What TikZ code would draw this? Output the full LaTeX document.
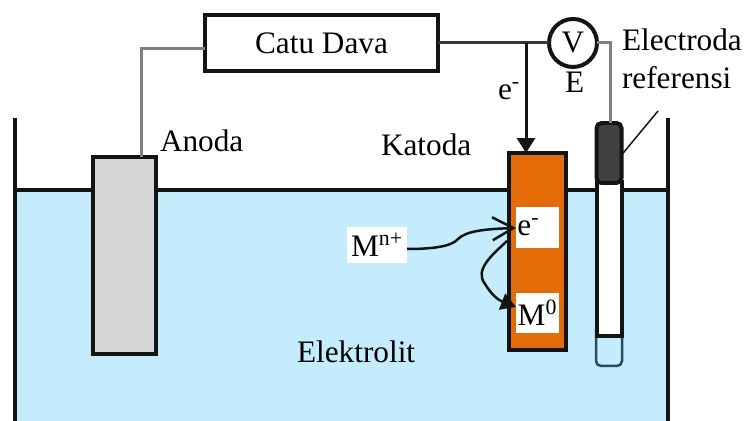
\documentclass[tikz,border=0pt]{standalone}
\usepackage{fontspec}
\setmainfont{Liberation Serif}
\usetikzlibrary{arrows.meta}
\definecolor{airbak}{HTML}{C5ECFC}
\definecolor{oranye}{HTML}{E36C09}
\definecolor{hitam}{HTML}{141414}
\definecolor{ujungbiru}{HTML}{1F4E5F}
\tikzset{
    wall/.style={draw=hitam,line width=.07cm},
    wire/.style={draw=gray,line width=.06cm},
    wiredark/.style={draw=hitam!85,line width=.06cm},
    elektroda/.style={draw=hitam,line width=.08cm,inner sep=0,outer sep=0},
    lbl/.style={inner sep=0,outer sep=0,anchor=west},
    whitebox/.style={fill=white,inner sep=0,outer sep=0,minimum width=.86cm,minimum height=.82cm}
}
\begin{document}
\begin{tikzpicture}[x=.02cm,y=-.02cm,font=\fontsize{17.8}{22}\selectfont]
    \useasboundingbox (0,0) rectangle (746,421);
    % bak
    \fill[airbak] (15,190) rectangle (668,421);
    \draw[wall] (15,118) -- (15,421);
    \draw[wall] (668,118) -- (668,421);
    \draw[wall] (15,190) -- (668,190);

    \node[elektroda,fill=white,minimum width=4.66cm,minimum height=1.12cm] (catu) at (321.5,43){Catu Dava};
    \node[elektroda,fill=white,circle,minimum size=.96cm] (volt) at (573,43){V};
    \node[elektroda,fill=black!16,minimum width=1.26cm,minimum height=3.94cm] (anoda) at (124.5,255.5){};
    \node[elektroda,fill=oranye,minimum width=1.14cm,minimum height=3.94cm] (katoda) at (537.5,251.5){};

    % elektroda referensi
    \node[draw=ujungbiru,line width=.05cm,fill=airbak,rounded corners=.1cm,inner sep=0,outer sep=0,minimum width=.52cm,minimum height=.84cm] (ujung) at (609,345){};
    \node[elektroda,fill=white,minimum width=.5cm,minimum height=3.1cm] (tabung) at (609,259){};
    \node[elektroda,fill=black!75,rounded corners=.1cm,minimum width=.5cm,minimum height=1.2cm] (tutup) at (609,153){};

    \coordinate (kiri) at (141,49);
    \coordinate (junc) at (526,43);
    \coordinate (kanan) at (610,43);
    \coordinate (ref) at (658,111);
    \draw[wire] (catu.west |- kiri) -- (kiri) -- (kiri |- anoda.north);
    \draw[wiredark] (catu.east) -- (volt.west);
    \draw[wire] (volt.east) -- (kanan) -- (kanan |- tutup.north);
    \draw[-{Triangle[length=.3cm,width=.36cm]},line width=.06cm,draw=hitam] (junc) -- (junc |- katoda.north);
    \draw[draw=hitam,line width=.03cm] (tutup.east |- 0,155) -- (ref);

    \node[lbl] (elec) at (622,40){Electroda};
    \node[lbl] (refr) at (622,78){referensi};
    \node[lbl] (labE) at (565,82){E};
    \node[lbl] (labe) at (498,91){e\textsuperscript{-}};
    \node[lbl] (labA) at (160,141){Anoda};
    \node[lbl] (labK) at (381,145){Katoda};
    \node[lbl] (labL) at (297,352){Elektrolit};

    \node[whitebox,minimum width=1.2cm,minimum height=.72cm] (mion) at (377,245){M\textsuperscript{n+}};
    \node[whitebox] (ebox) at (537.5,227.5){e\textsuperscript{-}\hspace{.36cm}\null};
    \node[whitebox,minimum height=.8cm] (mnol) at (537.5,313){M\textsuperscript{0}};

    \draw[-{Straight Barb[length=.42cm,width=.46cm]},line width=.05cm,draw=hitam] (mion.east |- 0,249) .. controls (435,249) and (452,246) .. (458,239) .. controls (466,231) and (485,229) .. (ebox.west |- 0,228);
    \draw[-{Triangle[length=.3cm,width=.34cm]},line width=.05cm,draw=hitam] (507,241) .. controls (492,255) and (474,270) .. (485,284) .. controls (491,294) and (498,300) .. (mnol.west |- 0,307);
\end{tikzpicture}
\end{document}
